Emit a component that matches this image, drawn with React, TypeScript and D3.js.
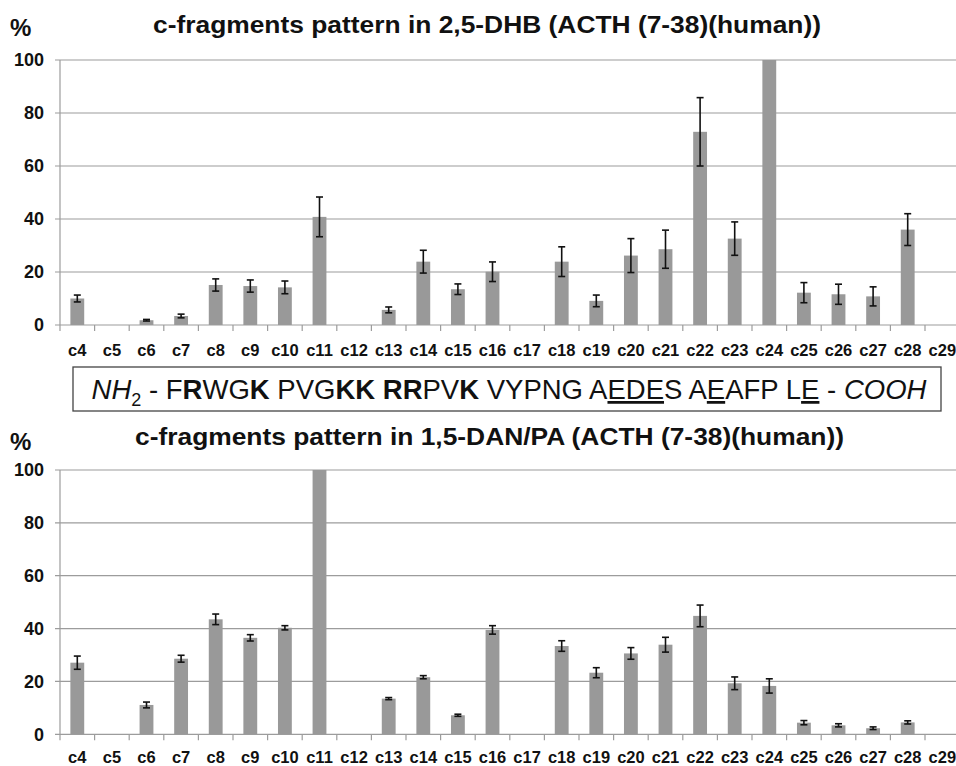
import React from 'react';
import * as d3 from 'd3';

const categories = ['c4', 'c5', 'c6', 'c7', 'c8', 'c9', 'c10', 'c11', 'c12', 'c13', 'c14', 'c15', 'c16',
  'c17', 'c18', 'c19', 'c20', 'c21', 'c22', 'c23', 'c24', 'c25', 'c26', 'c27', 'c28', 'c29'];

// 2,5-DHB
const dhbValues = [10, 0, 1.8, 3.4, 15.1, 14.7, 14.2, 40.8, 0, 5.7, 23.9, 13.5, 20.1,
  0, 23.9, 9.1, 26.2, 28.6, 72.9, 32.6, 100, 12.2, 11.6, 10.8, 36, 0];
const dhbErrors = [1.3, 0, 0.3, 0.7, 2.3, 2.3, 2.4, 7.5, 0, 1.1, 4.3, 2, 3.7,
  0, 5.6, 2.2, 6.4, 7.2, 12.9, 6.3, 0, 3.8, 3.8, 3.6, 6, 0];

// 1,5-DAN/PA
const danValues = [27.1, 0, 11.1, 28.6, 43.5, 36.5, 40.3, 100, 0, 13.5, 21.6, 7.2, 39.5,
  0, 33.4, 23.3, 30.6, 33.9, 44.8, 19.3, 18.3, 4.4, 3.4, 2.3, 4.5, 0];
const danErrors = [2.5, 0, 1.1, 1.3, 2, 1.2, 0.8, 0, 0, 0.4, 0.6, 0.4, 1.6,
  0, 2, 1.9, 2.2, 2.8, 4.1, 2.4, 2.7, 0.8, 0.6, 0.5, 0.6, 0];

const yTicks = [0, 20, 40, 60, 80, 100];

const FONT = '"Liberation Sans", Arial, sans-serif';
const GRID = '#9c9c9c';
const BAR = '#999999';

const x = d3.scaleBand<string>().domain(categories).range([60, 959.6]).padding(0);
const bw = x.bandwidth();
const barW = bw * 0.4;

function Panel({ y0, y100, title, titleX, titleY, titleLen, pctY, labelY, values, errors }) {
  const y = d3.scaleLinear().domain([0, 100]).range([y0, y100]);
  const bounds = categories.map(c => x(c)).concat([x.range()[1]]);
  return (
    <g>
      <text x={10} y={pctY} fontFamily={FONT} fontWeight="bold" fontSize={24} fill="#111">%</text>
      <text x={titleX} y={titleY} textAnchor="middle" fontFamily={FONT} fontWeight="bold" fontSize={23}
        textLength={titleLen} lengthAdjust="spacingAndGlyphs" fill="#111">{title}</text>

      {/* grid + y ticks */}
      {yTicks.map(t => (
        <g key={t}>
          {t > 0 && <line x1={55} x2={960} y1={y(t)} y2={y(t)} stroke={GRID} strokeWidth={1.2} />}
          <text x={44} y={y(t)} dy="0.36em" textAnchor="end" fontFamily={FONT} fontWeight="bold"
            fontSize={18} fill="#111">{t}</text>
        </g>
      ))}

      {/* bars */}
      {categories.map((c, i) => values[i] > 0 && (
        <rect key={c} x={x(c) + (bw - barW) / 2} width={barW} y={y(values[i])} height={y0 - y(values[i])} fill={BAR} />
      ))}

      {/* error bars */}
      {categories.map((c, i) => {
        if (!(values[i] > 0) || !(errors[i] > 0)) return null;
        const cx = x(c) + bw / 2;
        const hi = y(values[i] + errors[i]);
        const lo = y(values[i] - errors[i]);
        return (
          <g key={c} stroke="#111" strokeWidth={1.6}>
            <line x1={cx} x2={cx} y1={hi} y2={lo} />
            <line x1={cx - 3.5} x2={cx + 3.5} y1={hi} y2={hi} />
            <line x1={cx - 3.5} x2={cx + 3.5} y1={lo} y2={lo} />
          </g>
        );
      })}

      {/* axes */}
      <line x1={60} x2={60} y1={y100} y2={y0} stroke={GRID} strokeWidth={1.2} />
      <line x1={55} x2={960} y1={y0} y2={y0} stroke={GRID} strokeWidth={1.2} />
      {bounds.map((b, i) => (
        <line key={i} x1={b} x2={b} y1={y0} y2={y0 + 6} stroke={GRID} strokeWidth={1.2} />
      ))}
      {categories.map(c => (
        <text key={c} x={x(c) + bw / 2} y={labelY} textAnchor="middle" fontFamily={FONT} fontWeight="bold"
          fontSize={16.5} fill="#111">{c}</text>
      ))}
    </g>
  );
}

export default function App() {
  return (
    <div style={{ position: 'absolute', left: 0, top: 0 }}>
      <svg width={956} height={766} style={{ display: 'block', background: '#fff' }}>
        <Panel y0={325} y100={60} title="c-fragments pattern in 2,5-DHB (ACTH (7-38)(human))"
          titleX={487} titleY={33} titleLen={668} pctY={36} labelY={356}
          values={dhbValues} errors={dhbErrors} />

        <rect x={73} y={367} width={868} height={44} fill="#fff" stroke="#444" strokeWidth={1.3} />
        <text x={509} y={399} textAnchor="middle" fontFamily={FONT} fontSize={27.5} fill="#111">
          <tspan fontStyle="italic">NH</tspan>
          <tspan fontSize={18} dy={7}>2</tspan>
          <tspan dy={-7}> - F</tspan>
          <tspan fontWeight="bold">R</tspan>
          <tspan>WG</tspan>
          <tspan fontWeight="bold">K</tspan>
          <tspan> PVG</tspan>
          <tspan fontWeight="bold">KK RR</tspan>
          <tspan>PV</tspan>
          <tspan fontWeight="bold">K</tspan>
          <tspan> VYPNG A</tspan>
          <tspan textDecoration="underline">EDE</tspan>
          <tspan>S A</tspan>
          <tspan textDecoration="underline">E</tspan>
          <tspan>AFP L</tspan>
          <tspan textDecoration="underline">E</tspan>
          <tspan> - </tspan>
          <tspan fontStyle="italic">COOH</tspan>
        </text>

        <Panel y0={734.3} y100={470} title="c-fragments pattern in 1,5-DAN/PA (ACTH (7-38)(human))"
          titleX={489.5} titleY={445} titleLen={709} pctY={450} labelY={763}
          values={danValues} errors={danErrors} />
      </svg>
    </div>
  );
}
